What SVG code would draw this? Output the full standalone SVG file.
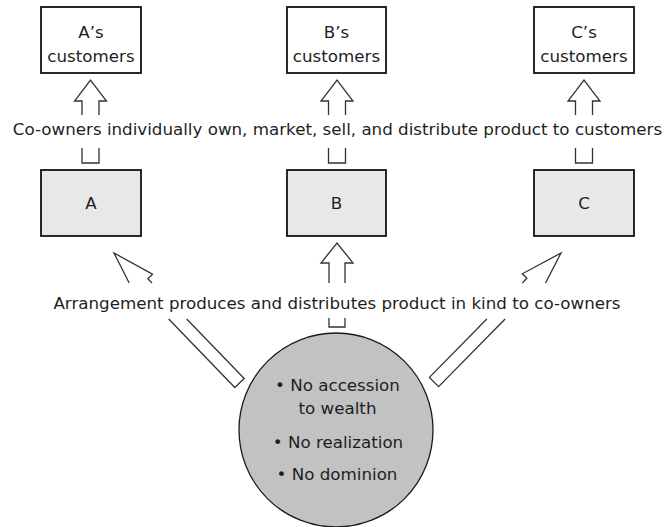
<svg xmlns="http://www.w3.org/2000/svg" width="664" height="527" viewBox="0 0 664 527">
<style>
text{font-family:"DejaVu Sans","Liberation Sans",sans-serif;font-size:16.7px;fill:#1e1e1e;text-anchor:middle}
.cust{fill:#ffffff;stroke:#111;stroke-width:1.8}
.owner{fill:#e8e8e8;stroke:#111;stroke-width:1.8}
.pool{fill:#c2c2c2;stroke:#1a1a1a;stroke-width:1.3}
.arr{fill:none;stroke:#333;stroke-width:1.3;stroke-linejoin:miter}
</style>
<rect width="664" height="527" fill="#ffffff"/>
<g id="node-a-customers"><rect class="cust" x="41" y="7" width="100" height="66"/><text x="91" y="38">A’s</text><text x="91" y="62">customers</text></g>
<g id="node-b-customers"><rect class="cust" x="287" y="7" width="99" height="66"/><text x="336.5" y="38">B’s</text><text x="336.5" y="62">customers</text></g>
<g id="node-c-customers"><rect class="cust" x="534" y="7" width="100" height="66"/><text x="584" y="38">C’s</text><text x="584" y="62">customers</text></g>
<g id="node-a"><rect class="owner" x="41" y="170" width="100" height="66"/><text x="91" y="209">A</text></g>
<g id="node-b"><rect class="owner" x="287" y="170" width="99" height="66"/><text x="336.5" y="209">B</text></g>
<g id="node-c"><rect class="owner" x="534" y="170" width="100" height="66"/><text x="584" y="209">C</text></g>
<g id="node-arrangement"><circle class="pool" cx="336" cy="430" r="97"/>
<text x="337.5" y="391">• No accession</text><text x="337.5" y="414">to wealth</text><text x="338" y="448">• No realization</text><text x="337" y="480">• No dominion</text></g>
<g id="connectors">
<path class="arr" d="M82,115 V101 H74.5 L90.5,80 L106.5,101 H99 V115"/>
<path class="arr" d="M82,148 V163 H99 V148"/>
<path class="arr" d="M328.5,115 V101 H321 L337,80 L353,101 H345.5 V115"/>
<path class="arr" d="M328.5,148 V163 H345.5 V148"/>
<path class="arr" d="M575.5,115 V101 H568 L584,80 L600,101 H592.5 V115"/>
<path class="arr" d="M575.5,148 V163 H592.5 V148"/>
<path class="arr" d="M329,283 V263 H321 L337,243 L353,263 H345 V283"/>
<path class="arr" d="M329,318 V327 H345 V318"/>
<path class="arr" d="M129.2,283 L114,253 L152.5,274.2 L147.8,278.7 L152,283"/>
<path class="arr" d="M168.7,319 L234.8,387.5 L244.2,378.5 L186.7,319"/>
<path class="arr" d="M545.5,283 L561,253 L522.3,273.8 L526.9,278.3 L522.3,283"/>
<path class="arr" d="M486.8,319 L429.4,377.4 L438.6,386.6 L505.1,319"/>
</g>
<g id="labels">
<text x="337.5" y="135">Co-owners individually own, market, sell, and distribute product to customers</text>
<text x="337" y="309">Arrangement produces and distributes product in kind to co-owners</text>
</g>
</svg>
